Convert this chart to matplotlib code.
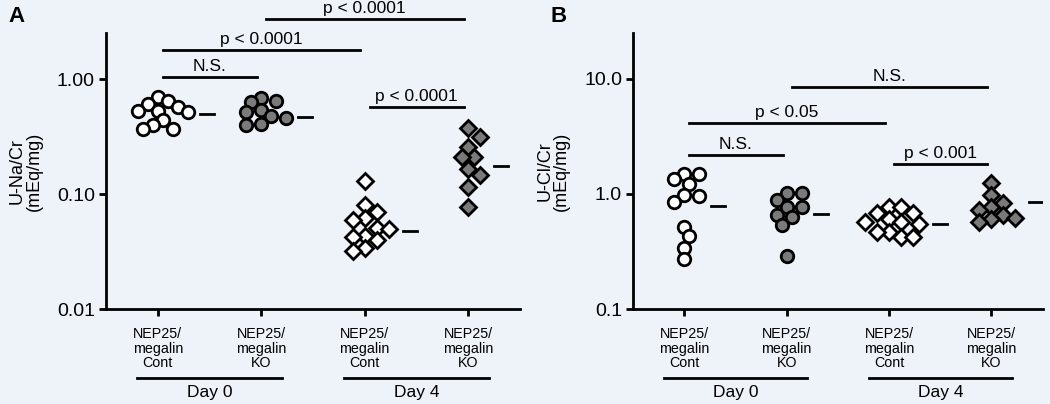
import numpy as np
import matplotlib
matplotlib.use("Agg")
import matplotlib.pyplot as plt

# values (mEq/mg)
groups = ["NEP25/\nmegalin\nCont", "NEP25/\nmegalin\nKO", "NEP25/\nmegalin\nCont", "NEP25/\nmegalin\nKO"]
days = ["Day 0", "Day 4"]

na_d0_cont = [0.70, 0.65, 0.61, 0.57, 0.53, 0.53, 0.52, 0.44, 0.40, 0.37, 0.37]
na_d0_ko = [0.68, 0.64, 0.63, 0.54, 0.52, 0.48, 0.46, 0.41, 0.40]
na_d4_cont = [0.130, 0.080, 0.070, 0.062, 0.059, 0.051, 0.050, 0.043, 0.042, 0.040, 0.034, 0.032]
na_d4_ko = [0.375, 0.313, 0.256, 0.210, 0.210, 0.165, 0.146, 0.115, 0.077]
na_means = [0.50, 0.47, 0.048, 0.175]

cl_d0_cont = [1.49, 1.49, 1.35, 1.22, 0.97, 0.96, 0.85, 0.52, 0.43, 0.34, 0.27]
cl_d0_ko = [1.02, 1.02, 0.89, 0.77, 0.77, 0.66, 0.63, 0.54, 0.29]
cl_d4_cont = [0.77, 0.77, 0.68, 0.68, 0.61, 0.57, 0.57, 0.55, 0.47, 0.47, 0.42, 0.42]
cl_d4_ko = [1.25, 0.98, 0.84, 0.77, 0.73, 0.66, 0.62, 0.60, 0.57]
cl_means = [0.79, 0.67, 0.55, 0.85]

# brackets: (from group, to group, height, label)
na_brackets = [(1, 2, 1.04, "N.S."), (1, 3, 1.79, "p < 0.0001"),
               (2, 4, 3.32, "p < 0.0001"), (3, 4, 0.57, "p < 0.0001")]
cl_brackets = [(1, 2, 2.18, "N.S."), (1, 3, 4.12, "p < 0.05"),
               (2, 4, 8.44, "N.S."), (3, 4, 1.82, "p < 0.001")]

bg = "#eef2f9"
grey = "#7a7a7a"
plt.rcParams["font.family"] = ["Liberation Sans", "DejaVu Sans"]

fig = plt.figure(figsize=(10.5, 4.04), dpi=100)
fig.patch.set_facecolor(bg)


def swarm(ax, xc, vals, min_d=10.5, step=5.0):
    # simple beeswarm in pixel space, returns pixel positions
    placed = []
    for v in vals:
        px, py = ax.transData.transform((xc, v))
        k = 0
        while True:
            cands = [0.0] if k == 0 else [k * step, -k * step]
            ok = None
            for c in cands:
                if all(np.hypot(px + c - qx, py - qy) >= min_d for qx, qy in placed):
                    ok = c
                    break
            if ok is not None:
                break
            k += 1
        placed.append((px + ok, py))
    return placed


def panel(rect, series, means, brackets, ylim, yticks, yticklabels, ylabel, letter, letter_x):
    ax = fig.add_axes(rect)
    ax.set_facecolor(bg)
    ax.set_yscale("log")
    ax.set_xlim(0.5, 4.5)
    ax.set_ylim(*ylim)
    for s in ["top", "right"]:
        ax.spines[s].set_visible(False)
    for s in ["left", "bottom"]:
        ax.spines[s].set_linewidth(2)
    ax.set_yticks(yticks)
    ax.set_yticklabels(yticklabels, fontsize=14)
    ax.yaxis.set_minor_locator(matplotlib.ticker.NullLocator())
    ax.set_xticks([1, 2, 3, 4])
    ax.set_xticklabels(groups, fontsize=10.3, linespacing=1.05)
    ax.tick_params(axis="both", width=2, length=5, pad=3)
    ax.tick_params(axis="x", pad=8)
    ax.set_ylabel(ylabel, fontsize=13, linespacing=1.0, labelpad=10)

    inv = ax.transData.inverted()
    styles = [("o", "white"), ("o", grey), ("D", "white"), ("D", grey)]
    for i, vals in enumerate(series):
        m, fc = styles[i]
        pts = swarm(ax, i + 1, vals, min_d=10.5 if m == "o" else 11.5,
                    step=5.0 if m == "o" else 6.0)
        xs = [inv.transform(p)[0] for p in pts]
        ax.plot(xs, vals, ls="none", marker=m, ms=9 if m == "o" else 8.2,
                mfc=fc, mec="black", mew=2, clip_on=False, zorder=3)
        # mean bar just right of the swarm
        right = max(p[0] for p in pts) + (7 if m == "o" else 9) + 5
        ypx = ax.transData.transform((1, means[i]))[1]
        x0 = inv.transform((right, ypx))[0]
        x1 = inv.transform((right + 14, ypx))[0]
        ax.plot([x0, x1], [means[i], means[i]], color="black", lw=2)

    for a, b, h, lab in brackets:
        ax.plot([a + 0.05, b - 0.04], [h, h], color="black", lw=2, clip_on=False)
        ax.annotate(lab, xy=((a + b) / 2, h), xytext=(0, 2), textcoords="offset points",
                    ha="center", va="bottom", fontsize=12.5, annotation_clip=False)

    # day grouping lines under the tick labels
    tr = matplotlib.transforms.blended_transform_factory(ax.transData, ax.transAxes)
    for k, day in enumerate(days):
        x0 = 1 + 2 * k
        ax.plot([x0 - 0.2, x0 + 1.2], [-0.25, -0.25], color="black", lw=2,
                transform=tr, clip_on=False)
        ax.text(x0 + 0.5, -0.275, day, transform=tr, ha="center", va="top", fontsize=12.5)

    fig.text(letter_x, 0.985, letter, fontsize=16, fontweight="bold", va="top")
    return ax


panel([0.101, 0.235, 0.394, 0.683], [na_d0_cont, na_d0_ko, na_d4_cont, na_d4_ko], na_means,
      na_brackets, (0.01, 2.51), [0.01, 0.1, 1.0], ["0.01", "0.10", "1.00"],
      "U-Na/Cr\n(mEq/mg)", "A", 0.008)
panel([0.603, 0.235, 0.390, 0.683], [cl_d0_cont, cl_d0_ko, cl_d4_cont, cl_d4_ko], cl_means,
      cl_brackets, (0.1, 24.8), [0.1, 1.0, 10.0], ["0.1", "1.0", "10.0"],
      "U-Cl/Cr\n(mEq/mg)", "B", 0.524)

fig.savefig("out.png", dpi=100, facecolor=bg)
